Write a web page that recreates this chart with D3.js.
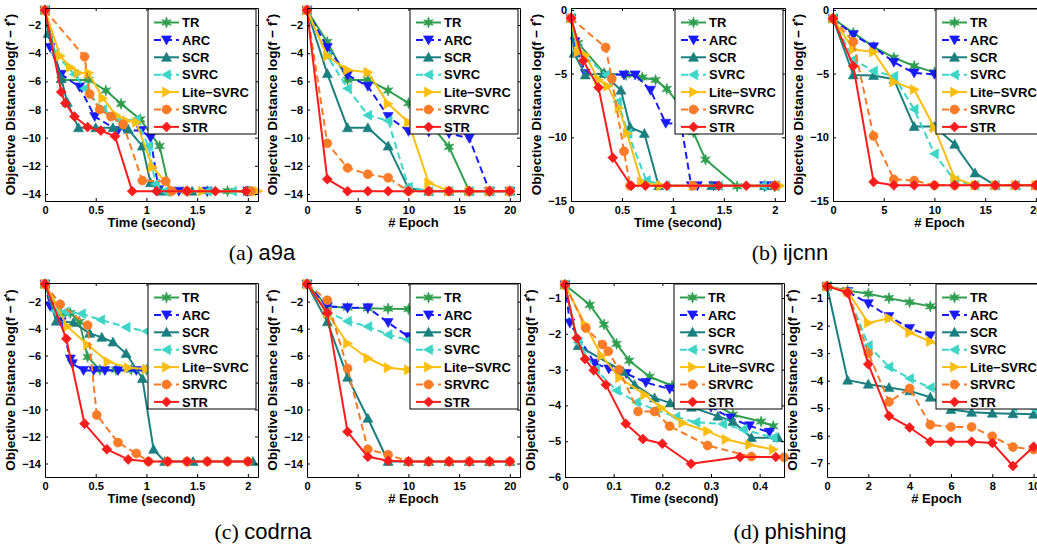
<!DOCTYPE html>
<html>
<head>
<meta charset="utf-8">
<script src="https://cdn.jsdelivr.net/npm/d3@7"></script>
<style>
    body { margin: 0; background: #fff; }
    svg { display: block; font-family: "Liberation Sans", Arial, Helvetica, sans-serif; }
    .tick text { font-weight: bold; font-size: 11px; fill: #000; }
    .domain, .tick line { stroke: #000; }
</style>
</head>
<body>
<svg id="chart" width="1037" height="544"></svg>
<script>
// Series (legend order)
const seriesNames = ['TR', 'ARC', 'SCR', 'SVRC', 'Lite\u2212SVRC', 'SRVRC', 'STR'];
const seriesColors = ['#2f9e4f', '#1a1aff', '#1b7f7f', '#3dd6c6', '#fdbe10', '#fb7b26', '#f81c1c'];
const seriesDashed = [false, true, false, true, false, true, false];
const seriesMarkers = ['hexagram', 'down', 'up', 'left', 'right', 'circle', 'diamond'];

const epochs20 = [0, 2, 4, 6, 8, 10, 12, 14, 16, 18, 20];
const epochs10 = [0, 1, 2, 3, 4, 5, 6, 7, 8, 9, 10];

// (a) a9a, time in seconds: [t, value]
const a9aTime = [
    [[0, -0.95], [0.16, -5.9], [0.43, -5.9], [0.6, -6.65], [0.75, -7.6], [0.94, -8.7], [1.13, -10.6], [1.23, -13.8], [1.4, -13.8], [1.6, -13.8], [1.8, -13.8], [2.0, -13.8]],
    [[0, -0.95], [0.05, -3.6], [0.16, -5.5], [0.34, -6.4], [0.49, -8.5], [0.72, -9.5], [0.95, -9.5], [1.04, -10.0], [1.12, -13.7], [1.32, -13.8], [1.6, -13.8], [2.0, -13.8]],
    [[0, -0.95], [0.03, -2.6], [0.16, -5.8], [0.22, -7.5], [0.33, -9.3], [0.5, -9.3], [0.67, -9.3], [0.82, -9.4], [0.96, -10.6], [1.04, -13.2], [1.15, -13.8], [1.45, -13.8], [2.0, -13.8]],
    [[0, -0.95], [0.1, -4.0], [0.29, -5.5], [0.39, -6.5], [0.57, -8.0], [0.74, -8.8], [0.9, -8.7], [1.02, -10.6], [1.09, -13.3], [1.18, -13.8], [1.6, -13.8], [1.85, -13.8], [2.0, -13.8]],
    [[0, -0.95], [0.15, -4.2], [0.25, -5.0], [0.33, -5.4], [0.43, -5.4], [0.57, -7.2], [0.7, -8.4], [0.8, -8.8], [0.9, -8.9], [1.06, -12.1], [1.27, -13.8], [1.55, -13.8], [2.1, -13.8]],
    [[0, -0.95], [0.39, -4.25], [0.44, -6.9], [0.54, -8.0], [0.65, -8.5], [0.77, -9.05], [0.96, -13.05], [1.19, -13.1], [1.25, -13.8], [1.4, -13.8], [2.03, -13.8]],
    [[0, -0.95], [0.16, -6.75], [0.2, -7.55], [0.29, -8.5], [0.42, -9.25], [0.55, -9.5], [0.69, -9.9], [0.86, -13.8], [1.1, -13.8], [1.4, -13.8], [1.68, -13.8], [1.98, -13.8]]
];

// (a) a9a, per epoch
const a9aEpoch = [
    [-0.95, -3.2, -5.9, -5.9, -6.65, -7.55, -8.9, -10.65, -13.8, -13.8, -13.8],
    [-0.95, -3.6, -5.55, -6.35, -8.5, -9.55, -9.6, -9.7, -10.05, -13.8, -13.8],
    [-0.95, -5.45, -9.3, -9.3, -10.6, -13.6, -13.8, -13.8, -13.8, -13.8, -13.8],
    [-0.95, -4.2, -6.5, -8.4, -8.8, -13.5, -13.8, -13.8, -13.8, -13.8, -13.8],
    [-0.95, -4.2, -5.2, -5.35, -7.6, -8.9, -13.2, -13.8, -13.8, -13.8, -13.8],
    [-0.95, -10.4, -12.15, -12.6, -12.85, -13.8, -13.8, -13.8, -13.8, -13.8, -13.8],
    [-0.95, -12.95, -13.8, -13.8, -13.8, -13.8, -13.8, -13.8, -13.8, -13.8, -13.8]
];

// (b) ijcnn, time
const ijcnnTime = [
    [[0, -0.65], [0.07, -2.6], [0.33, -5.0], [0.54, -5.1], [0.7, -5.3], [0.83, -5.5], [0.94, -6.2], [1.1, -7.8], [1.2, -9.6], [1.32, -11.75], [1.63, -13.85], [1.9, -13.85], [2.0, -13.85]],
    [[0, -0.65], [0.04, -2.5], [0.14, -5.0], [0.52, -5.1], [0.63, -5.1], [0.78, -6.3], [0.93, -8.9], [1.08, -8.95], [1.18, -13.8], [1.24, -13.8], [1.4, -13.8], [1.9, -13.8], [2.0, -13.8]],
    [[0, -0.65], [0.03, -3.4], [0.14, -5.1], [0.32, -5.0], [0.49, -6.3], [0.58, -9.2], [0.72, -9.7], [0.86, -13.8], [1.38, -13.8], [1.9, -13.8], [2.0, -13.8]],
    [[0, -0.65], [0.06, -3.2], [0.35, -5.1], [0.46, -7.2], [0.56, -9.7], [0.74, -13.4], [0.93, -13.8], [1.45, -13.8], [1.88, -13.8], [2.0, -13.8]],
    [[0, -0.65], [0.07, -3.3], [0.14, -3.55], [0.27, -5.5], [0.36, -6.0], [0.47, -7.7], [0.55, -9.7], [0.69, -13.5], [0.88, -13.8], [1.2, -13.8], [2.05, -13.8]],
    [[0, -0.65], [0.34, -2.95], [0.4, -5.4], [0.52, -11.1], [0.58, -13.8], [1.2, -13.8], [2.0, -13.8]],
    [[0, -0.65], [0.12, -4.0], [0.27, -6.1], [0.41, -11.6], [0.59, -13.8], [0.73, -13.8], [0.94, -13.8], [1.45, -13.8], [1.72, -13.8], [2.0, -13.8]]
];

// (b) ijcnn, per epoch
const ijcnnEpoch = [
    [-0.68, -1.8, -2.9, -3.75, -4.4, -4.9, -5.2, -5.5, -5.8, -6.0, -6.2],
    [-0.68, -1.95, -2.9, -4.1, -4.95, -5.05, -5.1, -5.15, -5.2, -5.25, -5.3],
    [-0.68, -5.1, -5.15, -5.45, -9.15, -9.15, -10.55, -12.8, -13.77, -13.77, -13.77],
    [-0.68, -3.9, -4.8, -5.2, -7.8, -11.3, -13.4, -13.77, -13.77, -13.77, -13.77],
    [-0.68, -3.1, -3.3, -5.65, -6.25, -9.25, -13.2, -13.77, -13.77, -13.77, -13.77],
    [-0.68, -2.5, -9.9, -13.3, -13.4, -13.77, -13.77, -13.77, -13.77, -13.77, -13.77],
    [-0.68, -4.4, -13.5, -13.77, -13.77, -13.77, -13.77, -13.77, -13.77, -13.77, -13.77]
];

// (c) codrna, time
const codrnaTime = [
    [[0, -0.7], [0.16, -2.9], [0.25, -2.85], [0.34, -3.5], [0.42, -6.1], [0.54, -7.05], [0.7, -7.05], [0.85, -7.05], [1.0, -7.05], [1.3, -7.05], [1.6, -7.05]],
    [[0, -0.7], [0.05, -2.35], [0.16, -3.5], [0.25, -6.25], [0.27, -6.6], [0.38, -7.1], [0.48, -7.1], [0.59, -7.1], [0.72, -7.1], [0.9, -7.1], [1.1, -7.1]],
    [[0, -0.7], [0.11, -3.45], [0.28, -3.55], [0.44, -4.35], [0.56, -4.65], [0.67, -5.0], [0.8, -5.85], [0.96, -7.7], [1.07, -12.95], [1.18, -13.85], [1.46, -13.85], [2.05, -13.85]],
    [[0, -0.7], [0.1, -2.7], [0.2, -2.75], [0.36, -2.9], [0.55, -3.35], [0.8, -3.9], [1.0, -4.2], [1.3, -4.5], [1.6, -4.7]],
    [[0, -0.7], [0.22, -3.85], [0.42, -5.2], [0.62, -6.45], [0.82, -6.9], [1.0, -7.0], [1.3, -7.05]],
    [[0, -0.7], [0.15, -2.2], [0.42, -3.75], [0.51, -10.4], [0.72, -12.45], [0.9, -13.25], [1.02, -13.85], [1.21, -13.85], [1.4, -13.85], [1.6, -13.85], [1.8, -13.85], [2.0, -13.85]],
    [[0, -0.7], [0.21, -4.75], [0.39, -11.05], [0.61, -12.95], [0.82, -13.7], [1.02, -13.85], [1.21, -13.85], [1.4, -13.85], [1.6, -13.85], [1.8, -13.85], [2.0, -13.85]]
];

// (c) codrna, per epoch
const codrnaEpoch = [
    [-0.7, -2.35, -2.45, -2.5, -2.52, -2.55, -2.57, -2.6, -2.6, -2.62, -2.65],
    [-0.7, -2.35, -2.45, -2.45, -3.55, -4.6, -4.8, -5.0, -5.1, -5.2, -5.3],
    [-0.7, -3.5, -7.6, -10.65, -13.85, -13.85, -13.85, -13.85, -13.85, -13.85, -13.85],
    [-0.7, -2.75, -3.45, -3.85, -4.45, -4.85, -5.1, -5.3, -5.5, -5.6, -5.7],
    [-0.7, -2.85, -5.1, -6.2, -6.9, -7.05, -7.1, -7.1, -7.1, -7.1, -7.1],
    [-0.7, -1.9, -6.95, -12.95, -13.35, -13.85, -13.85, -13.85, -13.85, -13.85, -13.85],
    [-0.7, -2.85, -11.65, -13.5, -13.8, -13.85, -13.85, -13.85, -13.85, -13.85, -13.85]
];

// (d) phishing, time
const phishingTime = [
    [[0, -0.63], [0.051, -1.19], [0.08, -1.74], [0.106, -2.28], [0.132, -2.75], [0.174, -3.2], [0.22, -3.45], [0.27, -3.72], [0.31, -3.98], [0.345, -4.26], [0.403, -4.45], [0.428, -4.58]],
    [[0, -0.63], [0.01, -1.7], [0.061, -2.82], [0.09, -2.98], [0.126, -3.11], [0.166, -3.36], [0.215, -3.54], [0.25, -3.75], [0.3, -4.05], [0.34, -4.35], [0.379, -4.57], [0.42, -4.75]],
    [[0, -0.63], [0.027, -2.33], [0.119, -3.05], [0.143, -3.42], [0.184, -3.79], [0.216, -3.93], [0.26, -4.05], [0.314, -4.3], [0.345, -4.45], [0.383, -4.9], [0.438, -4.9]],
    [[0, -0.63], [0.027, -2.24], [0.063, -3.0], [0.106, -3.58], [0.147, -3.91], [0.186, -4.12], [0.228, -4.32], [0.269, -4.47], [0.324, -4.52], [0.366, -4.67], [0.428, -4.9]],
    [[0, -0.63], [0.041, -1.74], [0.075, -2.61], [0.112, -3.23], [0.164, -3.7], [0.198, -4.07], [0.242, -4.49], [0.293, -4.72], [0.331, -4.95], [0.379, -5.1], [0.428, -5.23]],
    [[0, -0.63], [0.043, -1.84], [0.077, -2.3], [0.089, -2.49], [0.111, -3.0], [0.15, -4.17], [0.184, -4.17], [0.215, -4.58], [0.293, -5.12], [0.383, -5.43], [0.45, -5.45]],
    [[0, -0.63], [0.024, -2.12], [0.041, -2.7], [0.059, -3.02], [0.084, -3.42], [0.125, -4.51], [0.16, -4.94], [0.2, -5.07], [0.259, -5.63], [0.36, -5.44], [0.433, -5.44]]
];

// (d) phishing, per epoch
const phishingEpoch = [
    [-0.57, -0.72, -0.84, -1.0, -1.15, -1.3, -1.45, -1.6, -1.75, -1.9, -2.0],
    [-0.57, -0.76, -1.2, -1.67, -2.1, -2.37, -2.6, -2.8, -3.0, -3.1, -3.2],
    [-0.57, -3.98, -4.13, -4.25, -4.37, -4.6, -5.05, -5.15, -5.18, -5.2, -5.22],
    [-0.57, -0.8, -2.72, -3.5, -3.92, -4.25, -4.5, -4.7, -4.85, -4.95, -5.0],
    [-0.57, -0.76, -1.9, -1.73, -2.25, -2.58, -2.9, -3.1, -3.3, -3.5, -3.7],
    [-0.57, -0.8, -3.0, -4.77, -4.28, -5.6, -5.68, -5.68, -6.02, -6.41, -6.5],
    [-0.57, -0.8, -3.4, -5.28, -5.7, -6.22, -6.22, -6.22, -6.26, -7.1, -6.4]
];

// Tick values
const timeTicks = [0, 0.5, 1, 1.5, 2];
const epochTicks20 = [0, 5, 10, 15, 20];
const epochTicks10 = [0, 2, 4, 6, 8, 10];
const phishTimeTicks = [0, 0.1, 0.2, 0.3, 0.4];
const yTicks14 = [-14, -12, -10, -8, -6, -4, -2];
const yTicks15 = [-15, -10, -5, 0];
const yTicks6 = [-6, -5, -4, -3, -2, -1];
const yTicks7 = [-7, -6, -5, -4, -3, -2, -1];

const captions = [
    { x: 262, y: 260, tag: '(a)', name: 'a9a' },
    { x: 790, y: 260, tag: '(b)', name: 'ijcnn' },
    { x: 263, y: 539, tag: '(c)', name: 'codrna' },
    { x: 790, y: 539, tag: '(d)', name: 'phishing' }
];

function withEpochs(epochs, rows) {
    return rows.map((row) => row.map((v, i) => [epochs[i], v]));
}

const panels = [
    { data: a9aTime, box: [45, 8, 258, 201], xDom: [0, 2.1], yDom: [-14.5, -0.79], xTicks: timeTicks, yTicks: yTicks14, xLabel: 'Time (second)' },
    { data: withEpochs(epochs20, a9aEpoch), box: [307, 8, 520, 201], xDom: [0, 21], yDom: [-14.5, -0.79], xTicks: epochTicks20, yTicks: yTicks14, xLabel: '# Epoch' },
    { data: ijcnnTime, box: [571, 8, 785, 201], xDom: [0, 2.1], yDom: [-15, 0.15], xTicks: timeTicks, yTicks: yTicks15, xLabel: 'Time (second)' },
    { data: withEpochs(epochs20, ijcnnEpoch), box: [833, 8, 1046, 201], xDom: [0, 21], yDom: [-15, 0.15], xTicks: epochTicks20, yTicks: yTicks15, xLabel: '# Epoch' },
    { data: codrnaTime, box: [45, 283, 258, 477], xDom: [0, 2.1], yDom: [-15, -0.62], xTicks: timeTicks, yTicks: yTicks14, xLabel: 'Time (second)' },
    { data: withEpochs(epochs20, codrnaEpoch), box: [307, 283, 520, 477], xDom: [0, 21], yDom: [-15, -0.62], xTicks: epochTicks20, yTicks: yTicks14, xLabel: '# Epoch' },
    { data: phishingTime, box: [565, 283, 784, 477], xDom: [0, 0.45], yDom: [-6, -0.58], xTicks: phishTimeTicks, yTicks: yTicks6, xLabel: 'Time (second)' },
    { data: withEpochs(epochs10, phishingEpoch), box: [827, 283, 1046, 477], xDom: [0, 10.6], yDom: [-7.5, -0.45], xTicks: epochTicks10, yTicks: yTicks7, xLabel: '# Epoch' }
];

function markerPath(kind) {
    switch (kind) {
        case 'hexagram': {
            const pts = [];
            for (let i = 0; i < 12; i++) {
                const r = i % 2 ? 2.4 : 5.6;
                const a = (Math.PI / 6) * i - Math.PI / 2;
                pts.push([(r * Math.cos(a)).toFixed(2), (r * Math.sin(a)).toFixed(2)]);
            }
            return 'M' + pts.join('L') + 'Z';
        }
        case 'down': return 'M-5,-4L5,-4L0,5Z';
        case 'up': return 'M-5,4L5,4L0,-5Z';
        case 'left': return 'M4,-5L4,5L-5,0Z';
        case 'right': return 'M-4,-5L-4,5L5,0Z';
        case 'circle': return d3.symbol(d3.symbolCircle, 64)();
        case 'diamond': return 'M0,-5L5,0L0,5L-5,0Z';
    }
}

const fmt = (d) => (d < 0 ? '\u2212' : '') + Math.abs(d);
const svg = d3.select('#chart');

panels.forEach((p, pi) => {
    const [l, t, r, b] = p.box;
    const x = d3.scaleLinear().domain(p.xDom).range([l, r]);
    const y = d3.scaleLinear().domain(p.yDom).range([b, t]);
    const g = svg.append('g').attr('class', 'panel');

    g.append('clipPath').attr('id', 'clip' + pi)
        .append('rect').attr('x', l).attr('y', t).attr('width', r - l).attr('height', b - t);

    const line = d3.line().x((d) => x(d[0])).y((d) => y(d[1]));
    const plot = g.append('g');

    p.data.forEach((series, si) => {
        plot.append('path')
            .attr('d', line(series))
            .attr('clip-path', `url(#clip${pi})`)
            .attr('fill', 'none')
            .attr('stroke', seriesColors[si])
            .attr('stroke-width', 2)
            .attr('stroke-linejoin', 'round')
            .attr('stroke-dasharray', seriesDashed[si] ? '7,4' : null);
        plot.append('g').selectAll('path')
            .data(series.filter((d) => x(d[0]) <= r + 4))
            .join('path')
            .attr('d', markerPath(seriesMarkers[si]))
            .attr('transform', (d) => `translate(${x(d[0])},${y(d[1])})`)
            .attr('fill', seriesColors[si])
            .attr('stroke', seriesColors[si])
            .attr('stroke-width', 0.6);
    });

    // Axes, ticks pointing inward on all sides (box on).
    g.append('g').attr('transform', `translate(0,${b})`)
        .call(d3.axisBottom(x).tickValues(p.xTicks).tickFormat(fmt).tickSize(-3).tickSizeOuter(0).tickPadding(5));
    g.append('g').attr('transform', `translate(0,${t})`)
        .call(d3.axisTop(x).tickValues(p.xTicks).tickFormat('').tickSize(-3).tickSizeOuter(0));
    g.append('g').attr('transform', `translate(${l},0)`)
        .call(d3.axisLeft(y).tickValues(p.yTicks).tickFormat(fmt).tickSize(-3).tickSizeOuter(0).tickPadding(4));
    g.append('g').attr('transform', `translate(${r},0)`)
        .call(d3.axisRight(y).tickValues(p.yTicks).tickFormat('').tickSize(-3).tickSizeOuter(0));

    // Axis labels
    g.append('text')
        .attr('x', (l + r) / 2).attr('y', b + 26)
        .attr('text-anchor', 'middle')
        .attr('font-weight', 'bold').attr('font-size', 13)
        .text(p.xLabel);

    const yl = g.append('text')
        .attr('transform', `translate(${l - 30},${(t + b) / 2}) rotate(-90)`)
        .attr('text-anchor', 'middle')
        .attr('font-weight', 'bold').attr('font-size', 13.5);
    yl.append('tspan').text('Objective Distance log(f \u2212 f');
    yl.append('tspan').attr('dy', -5).attr('font-size', 9).text('*');
    yl.append('tspan').attr('dy', 5).text(')');

    // Legend
    const lw = 108, lh = 125;
    const lx = r - 2 - lw, ly = t + 1;
    const leg = g.append('g').attr('transform', `translate(${lx},${ly})`);
    leg.append('rect').attr('width', lw).attr('height', lh)
        .attr('fill', '#fff').attr('stroke', '#000').attr('stroke-width', 1);
    seriesNames.forEach((name, si) => {
        const yy = 13.5 + si * 17.4;
        leg.append('line')
            .attr('x1', 6).attr('x2', 31).attr('y1', yy).attr('y2', yy)
            .attr('stroke', seriesColors[si]).attr('stroke-width', 2)
            .attr('stroke-dasharray', seriesDashed[si] ? '7,4' : null);
        leg.append('path')
            .attr('d', markerPath(seriesMarkers[si]))
            .attr('transform', `translate(18.5,${yy})`)
            .attr('fill', seriesColors[si]).attr('stroke', seriesColors[si]).attr('stroke-width', 0.6);
        leg.append('text')
            .attr('x', 34).attr('y', yy).attr('dy', '0.36em')
            .attr('font-weight', 'bold').attr('font-size', 13)
            .text(name);
    });
});

// Sub-figure captions
captions.forEach((c) => {
    const txt = svg.append('text')
        .attr('x', c.x).attr('y', c.y)
        .attr('text-anchor', 'middle')
        .attr('font-size', 22);
    txt.append('tspan').attr('font-family', '"Liberation Serif", "Times New Roman", serif').text(c.tag + ' ');
    txt.append('tspan').text(c.name);
});
</script>
</body>
</html>
